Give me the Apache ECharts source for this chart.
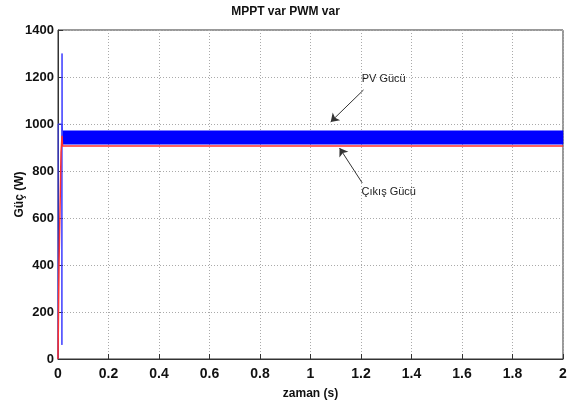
<!DOCTYPE html>
<html><head><meta charset="utf-8">
<script src="https://cdn.jsdelivr.net/npm/echarts@6/dist/echarts.min.js"></script>
<style>html,body{margin:0;padding:0;background:#fff}#c{width:571px;height:405px}</style>
</head><body><div id="c"></div>
<script>
const titleText = 'MPPT var PWM var';
const xName = 'zaman (s)';
const yName = 'Güç (W)';
const xMin = 0, xMax = 2, xStep = 0.2;
const yMin = 0, yMax = 1400, yStep = 200;

// PV power transient (start-up) before the steady oscillation band
const pvT = [0, 0.0005, 0.015, 0.0155, 0.016, 0.0165, 0.018];
const pvW = [0, 1000, 1000, 60, 1300, 1000, 971];
// PV power steady oscillation band (min / max envelope)
const bandT = [0.018, 2];
const bandLow = [914, 914];
const bandHigh = [971, 971];
// Output power
const outT = [0, 0.004, 0.012, 0.016, 0.018, 2];
const outW = [0, 400, 880, 950, 906, 906];

// Annotations: [label, textT, textW, arrowFromT, arrowFromW, arrowToT, arrowToW]
const annPV = ['PV Gücü', 1.29, 1190, 1.21, 1145, 1.08, 1009];
const annOut = ['Çıkış Gücü', 1.31, 711, 1.205, 749, 1.115, 898];

const FONT = "'Liberation Sans Narrow','Arial Narrow','Liberation Sans',Arial,sans-serif";
const zip = (a, b) => a.map((v, i) => [v, b[i]]);

const chart = echarts.init(document.getElementById('c'), null, {renderer: 'canvas'});
const txt = {fontFamily: FONT, fontWeight: 'bold', color: '#111'};

function annotation(a) {
  return {
    silent: true,
    symbol: ['none', 'arrow'],
    symbolSize: 8,
    lineStyle: {color: '#333', width: 1, type: 'solid'},
    label: {show: false},
    emphasis: {disabled: true},
    data: [[{coord: [a[3], a[4]]}, {coord: [a[5], a[6]]}]]
  };
}
function annLabel(a) {
  return {
    silent: true,
    symbol: 'circle', symbolSize: 0,
    label: {show: true, position: 'inside', formatter: a[0], fontFamily: FONT, fontSize: 11, color: '#222'},
    data: [{coord: [a[1], a[2]]}]
  };
}

const bandData = bandT.map((t, i) => [t, bandLow[i], bandHigh[i]]);

chart.setOption({
  animation: false,
  backgroundColor: '#fff',
  title: {text: titleText, left: 'center', top: 1, textStyle: Object.assign({fontSize: 12}, txt)},
  grid: {left: 58, right: 8, top: 30, bottom: 46, show: true, borderColor: '#333', borderWidth: 1,
         backgroundColor: '#fff', containLabel: false, outerBoundsMode: 'none'},
  xAxis: {
    type: 'value', min: xMin, max: xMax, interval: xStep,
    name: xName, nameLocation: 'middle', nameGap: 29, nameMoveOverlap: false,
    nameTextStyle: Object.assign({fontSize: 12}, txt),
    axisLine: {show: true, lineStyle: {color: '#333'}},
    axisTick: {inside: true, length: 5, lineStyle: {color: '#333'}},
    axisLabel: Object.assign({fontSize: 14, margin: 8, formatter: v => String(+v.toFixed(1))}, txt),
    splitLine: {show: true, lineStyle: {color: '#aaa', type: [1, 2], width: 1}}
  },
  yAxis: {
    type: 'value', min: yMin, max: yMax, interval: yStep,
    name: yName, nameLocation: 'middle', nameGap: 32, nameMoveOverlap: false,
    nameTextStyle: Object.assign({fontSize: 12}, txt),
    axisLine: {show: true, lineStyle: {color: '#333'}},
    axisTick: {inside: true, length: 5, lineStyle: {color: '#333'}},
    axisLabel: Object.assign({fontSize: 13, margin: 4, formatter: v => String(v)}, txt),
    splitLine: {show: true, lineStyle: {color: '#aaa', type: [1, 2], width: 1}}
  },
  series: [
    {name: 'PV band', type: 'custom', silent: true, data: bandData,
     renderItem: function (params, api) {
       if (params.dataIndex !== 0) return;
       const pts = [];
       for (let i = 0; i < bandT.length; i++) pts.push(api.coord([bandT[i], bandHigh[i]]));
       for (let i = bandT.length - 1; i >= 0; i--) pts.push(api.coord([bandT[i], bandLow[i]]));
       return {type: 'polygon', shape: {points: pts}, style: {fill: '#0000ff', stroke: '#0000ff', lineWidth: 0.5}};
     },
     encode: {x: 0, y: [1, 2]}},
    {name: 'PV', type: 'line', data: zip(pvT, pvW), symbol: 'none', lineStyle: {color: '#3a3aff', width: 1}, silent: true},
    {name: 'Out', type: 'line', data: zip(outT, outW), symbol: 'none', lineStyle: {color: '#ff3030', width: 1.5}, silent: true,
     markLine: annotation(annPV), markPoint: annLabel(annPV)},
    {name: 'Out2', type: 'line', data: [], symbol: 'none',
     markLine: annotation(annOut), markPoint: annLabel(annOut)}
  ]
});
</script></body></html>
